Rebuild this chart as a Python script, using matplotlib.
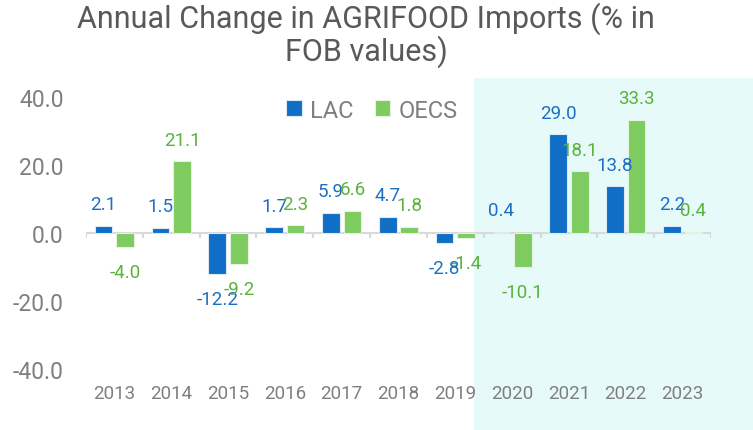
import matplotlib
matplotlib.use("Agg")
import matplotlib.pyplot as plt
from matplotlib.patches import Rectangle
import numpy as np

years = ["2013", "2014", "2015", "2016", "2017", "2018", "2019", "2020", "2021", "2022", "2023"]
lac = [2.1, 1.5, -12.2, 1.7, 5.9, 4.7, -2.8, 0.4, 29.0, 13.8, 2.2]
oecs = [-4.0, 21.1, -9.2, 2.3, 6.6, 1.8, -1.4, -10.1, 18.1, 33.3, 0.4]
yticks = [-40, -20, 0, 20, 40]
title = "Annual Change in AGRIFOOD Imports (% in\nFOB values)"

plt.rcParams['font.family'] = ['Roboto', 'DejaVu Sans']

W, H = 753, 431
fig = plt.figure(figsize=(W / 100, H / 100), dpi=100)
fig.patch.set_facecolor('white')

# shaded highlight region
fig.patches.append(Rectangle((474 / W, 0), 1 - 474 / W, (H - 79) / H,
                             transform=fig.transFigure, facecolor='#E6FAFA',
                             edgecolor='none', zorder=0))

ax = fig.add_axes([86 / W, 61 / H, 625 / W, 272 / H])
ax.set_zorder(2)
ax.patch.set_alpha(0)

blue = '#116EC6'
green = '#7ECB60'
blue_txt = '#1D6FC3'
green_txt = '#5BB23B'

x = np.arange(len(years))
w = 0.31
off = 0.19
ax.bar(x - off, lac, w, color=blue, edgecolor='#DCE9F5', linewidth=0.8, zorder=3, label='LAC')
ax.bar(x + off, oecs, w, color=green, edgecolor='#E4F3DE', linewidth=0.8, zorder=3, label='OECS')

for xi, v in zip(x - off, lac):
    ax.annotate(f"{v:.1f}", (xi, v), xytext=(0, 15.5 if v >= 0 else -18),
                textcoords='offset points', ha='center', va='center',
                fontsize=13.5, color=blue_txt, zorder=5)
for xi, v in zip(x + off, oecs):
    ax.annotate(f"{v:.1f}", (xi, v), xytext=(0, 15.5 if v >= 0 else -18),
                textcoords='offset points', ha='center', va='center',
                fontsize=13.5, color=green_txt, zorder=5)

ax.set_xlim(-0.5, len(years) - 0.5)
ax.set_ylim(-40, 40)
for s in ax.spines.values():
    s.set_visible(False)
ax.axhline(0, color='#D9D9D9', lw=1.5, zorder=2)
bounds = np.arange(len(years) + 1) - 0.5
ax.vlines(bounds, -1.5, 0, color='#D9D9D9', lw=1.5, zorder=2)

ax.set_xticks(x)
ax.set_xticklabels(years)
ax.tick_params(axis='x', length=0, pad=11, labelsize=13.5, labelcolor='#7F7F7F')
ax.set_yticks(yticks)
ax.set_yticklabels([f"{t:.1f}" for t in yticks])
ax.tick_params(axis='y', length=0, pad=16, labelsize=16.5, labelcolor='#7F7F7F')

leg = ax.legend(loc='center', bbox_to_anchor=(372 / W, (H - 111) / H),
                bbox_transform=fig.transFigure, ncol=2, frameon=False,
                fontsize=17, handlelength=0.65, handleheight=0.65,
                handletextpad=0.35, columnspacing=0.9, borderpad=0)
for t in leg.get_texts():
    t.set_color('#7F7F7F')

fig.text(366 / W, 1 - 35 / H, title, ha='center', va='center', fontsize=22,
         color='#595959', linespacing=1.0)

fig.savefig('out.png', dpi=100)
